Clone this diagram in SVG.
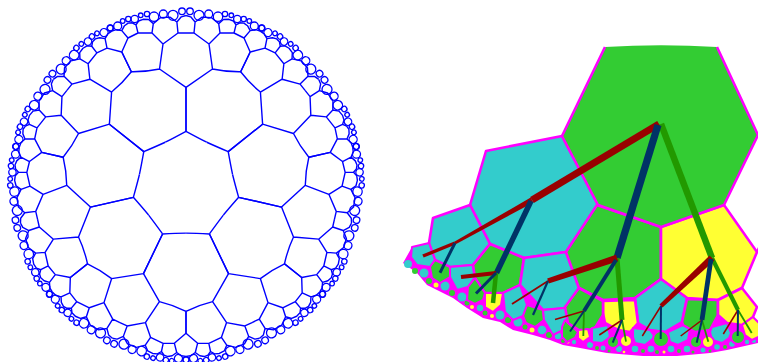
<svg xmlns="http://www.w3.org/2000/svg" width="758" height="362" viewBox="0 0 758 362">
<style>
.w{fill:none;stroke:#00f;stroke-width:1.4;stroke-linejoin:round}
.c{fill:none;stroke:#00f;stroke-width:1.3}
.t{fill:#3cc}.g{fill:#3c3}.y{fill:#ff3}
.cell{stroke:#f0f;stroke-width:2.6;stroke-linejoin:round}
.sm{stroke-width:2}
.r{stroke:#900;fill:none}.n{stroke:#036;fill:none}.v{stroke:#290;fill:none}
.rf{fill:#900}
</style>
<defs>
<g id="h">
<path class="w" d="M186,131.3Q174,137.8 165.3,142.2M186,131.3V87.3L159.5,69Q145.6,72 131.3,71.8L121.8,52M159.5,69L163,44L178,33H186M163,44L152,33L138,33L128,38L121.8,52M178,33L176.9,22L181.3,16.8L186,15.5M176.9,22L169.9,17.1L160.4,17.75L153.3,23.6L152,33M153.3,23.6L148.6,19.5L143.1,19.3L138.6,21L136,24.9L138,33M136,24.9L132.1,22.8L128.1,23.1L124.5,25.7L121.8,30.6L128,38M121.8,30.6L116.3,29.7L111.8,31.2"/>
<g class="c"><circle cx="182" cy="11.3" r="3.3"/><circle cx="173" cy="15.3" r="5"/><circle cx="163.3" cy="14" r="4"/><circle cx="154" cy="16.7" r="4.7"/><circle cx="147" cy="14" r="2.7"/><circle cx="140.7" cy="15.3" r="2.3"/><circle cx="134.7" cy="19" r="3.7"/><circle cx="128.3" cy="19" r="2.7"/><circle cx="122.7" cy="21" r="2.3"/><circle cx="117.7" cy="26" r="4"/><circle cx="110.3" cy="28" r="3"/></g>
</g>
<g id="q"><use href="#h"/><use href="#h" transform="translate(372,0) scale(-1,1)"/></g>
</defs>
<g id="disk">
<use href="#q"/>
<use href="#q" transform="rotate(51.4286 186 185.3)"/>
<use href="#q" transform="rotate(102.8571 186 185.3)"/>
<use href="#q" transform="rotate(154.2857 186 185.3)"/>
<use href="#q" transform="rotate(205.7143 186 185.3)"/>
<use href="#q" transform="rotate(257.1429 186 185.3)"/>
<use href="#q" transform="rotate(308.5714 186 185.3)"/>
</g>
<g id="rim">
<polygon fill="#f0f" points="403,263 417,273 427,285 437,290 453,298 467,308 483,318 500,322 513,330 533,335 550,340 563,345 580,348 607,353 643,356 677,356 710,353 727,350 758,343 758,330 745,310 640,295 520,285 450,258 412,247"/>
<g class="t"><circle cx="408" cy="264" r="4"/><circle cx="424" cy="273" r="4.5"/><circle cx="445" cy="286" r="4.5"/><circle cx="462" cy="297" r="4.5"/><circle cx="480" cy="308" r="3.2"/><circle cx="500" cy="315" r="4.5"/><circle cx="518" cy="322" r="4.5"/><circle cx="542" cy="330" r="4.3"/><circle cx="558" cy="336" r="3.2"/><circle cx="574" cy="342" r="2.2"/><circle cx="590" cy="345" r="3"/><circle cx="603" cy="348" r="2.5"/><circle cx="619" cy="349" r="3"/><circle cx="635" cy="349" r="3.3"/><circle cx="651" cy="349" r="3.3"/><circle cx="671" cy="349" r="3.3"/><circle cx="687" cy="349" r="3.3"/><circle cx="703" cy="350" r="2.5"/><circle cx="717" cy="347" r="2.8"/><circle cx="732" cy="344" r="2.8"/><circle cx="747" cy="342" r="2.2"/><circle cx="754" cy="341" r="2"/></g>
<g class="g"><circle cx="415" cy="271" r="3"/><circle cx="429" cy="281" r="3"/><circle cx="452" cy="293" r="3"/><circle cx="467" cy="303" r="2.5"/><circle cx="485" cy="313" r="2.5"/><circle cx="508" cy="320" r="3"/><circle cx="525" cy="327" r="2.5"/><circle cx="549" cy="335" r="3"/><circle cx="563" cy="341" r="2"/><circle cx="597" cy="348" r="2"/><circle cx="609" cy="351" r="1.5"/><circle cx="643" cy="351" r="2"/><circle cx="657" cy="352" r="2"/><circle cx="679" cy="351" r="2"/><circle cx="693" cy="352" r="1.5"/><circle cx="710" cy="351" r="1.5"/><circle cx="725" cy="347" r="2"/></g>
<g class="y"><circle cx="436" cy="285" r="2.5"/><circle cx="472" cy="307" r="2"/><circle cx="492" cy="316" r="2"/><circle cx="532" cy="330" r="2.5"/><circle cx="568" cy="342" r="1.5"/><circle cx="624" cy="352" r="1.3"/><circle cx="664" cy="352" r="1.5"/></g>
</g>
<g id="cells">
<polygon id="c1" class="t cell" points="486,151 562,136 598,205 566,252 524,258 490,244 470,205"/>
<polygon id="c2" class="t cell" points="433,218 470,205 490,244 473,265 450,267 435,260 429,243"/>
<polygon id="c3" class="t cell sm" points="412,247 429,243 435,260 430,267 417,265 411,257"/>
<polygon id="c4" class="g cell sm" points="435,260 450,267 450,277 440,283 432,278 430,267"/>
<polygon id="c5" class="t cell sm" points="450,267 473,265 475,277 468,287 457,290 450,277"/>
<polygon id="c6" class="g cell" points="473,265 490,244 524,258 520,285 503,293 485,293 475,278"/>
<polygon id="c7" class="g cell sm" points="475,278 485,293 483,300 475,304 467,300 468,287"/>
<polygon id="c8" class="y cell sm" points="485,293 503,293 501,305 493,312 485,307"/>
<polygon id="c9" class="t cell" points="524,258 566,252 579,288 566,308 543,310 520,285"/>
<polygon id="c10" class="t cell sm" points="503,293 520,285 527,305 523,316 513,320 505,312"/>
<polygon id="c11" class="g cell sm" points="527,305 543,310 544,320 535,327 526,323 523,316"/>
<polygon id="c12" class="t cell sm" points="543,310 566,308 570,322 563,330 553,335 544,320"/>
<polygon id="c13" class="g cell sm" points="565,320 578,332 575,338 567,342 562,337 562,327"/>
<polygon id="c14" class="g cell" points="597,205 661,227 661,279 635,298 603,300 579,288 566,252"/>
<polygon id="c15" class="y cell" points="661,227 724,205 757,252 742,288 718,300 687,298 661,279"/>
<polygon id="c16" class="t cell" points="661,279 687,298 682,322 665,332 650,330 638,323 635,298"/>
<polygon id="c17" class="y cell" points="603,301 635,300 638,323 630,332 618,330 605,323 603,313"/>
<polygon id="c18" class="g cell" points="579,288 603,301 603,315 595,328 582,332 568,323 565,307"/>
<polygon id="c19" class="y cell sm" points="578,330 588,329 590,337 583,342 578,338"/>
<polygon id="c20" class="t cell sm" points="592,328 608,325 610,337 602,343 592,342 592,335"/>
<circle id="c21" class="g cell sm" cx="613" cy="342" r="6"/>
<circle id="c22" class="y cell sm" cx="626" cy="341" r="6"/>
<polygon id="c23" class="t cell sm" points="633,328 650,330 655,337 645,345 635,343 633,337"/>
<circle id="c24" class="g cell sm" cx="661" cy="339" r="8"/>
<polygon id="c25" class="t cell sm" points="668,332 683,325 690,328 688,340 678,345 670,342"/>
<polygon id="c26" class="g cell" points="687,299 718,300 718,315 710,330 695,332 683,325 682,322"/>
<polygon id="c27" class="y cell" points="718,300 742,288 757,307 753,317 742,325 727,323 718,315"/>
<polygon id="c28" class="t cell sm" points="712,327 727,323 731,333 729,338 722,343 712,340 710,332"/>
<circle id="c29" class="g cell sm" cx="738" cy="337" r="7"/>
<polygon id="c30" class="y cell sm" points="742,325 753,317 760,324 760,336 752,340 745,335"/>
<circle id="c31" class="g cell sm" cx="696" cy="342" r="6"/>
<circle id="c32" class="y cell sm" cx="708" cy="342" r="6"/>
<path id="c33" class="g" d="M605,47Q661,43.5 717,47L758,135L724,205L661,227L598,205L562,136Z"/>
<path class="cell" fill="none" d="M605,47L562,136L598,205L661,227L724,205L758,135L717,47M757,252L760,246"/>
</g>
<g id="tree" stroke-linecap="butt">
<line class="v" x1="661" y1="124" x2="712" y2="258" stroke-width="6.5"/>
<line class="r" x1="659" y1="124" x2="532" y2="200" stroke-width="7"/>
<line class="n" x1="658" y1="125" x2="617" y2="258" stroke-width="7.3"/>
<polygon class="rf" points="533.3,202.4 530.7,197.6 454.3,241.7 455.7,244.3"/>
<line class="n" x1="531" y1="201" x2="496.5" y2="273" stroke-width="5.5"/>
<line class="r" x1="455" y1="243" x2="423" y2="256" stroke-width="3.5"/>
<line class="n" x1="455" y1="243" x2="440" y2="272.7" stroke-width="3"/>
<line class="v" x1="496" y1="273" x2="493" y2="303" stroke-width="4.5"/>
<line class="r" x1="496" y1="273" x2="461" y2="277" stroke-width="4"/>
<line class="n" x1="496" y1="273" x2="476" y2="293.5" stroke-width="3"/>
<line class="v" x1="617" y1="258" x2="622" y2="320" stroke-width="5"/>
<polygon class="rf" points="618.1,261.3 615.9,254.7 547.2,278.6 548.8,283.4"/>
<line class="n" x1="616" y1="260" x2="584" y2="311" stroke-width="4"/>
<line class="r" x1="548" y1="281" x2="512" y2="304" stroke-width="1.8"/>
<line class="n" x1="548" y1="281" x2="533" y2="315" stroke-width="2.2"/>
<line class="v" x1="584" y1="311" x2="583.3" y2="336" stroke-width="1.8"/>
<line class="r" x1="584" y1="311" x2="555" y2="319.5" stroke-width="1.5"/>
<line class="n" x1="584" y1="311" x2="570" y2="331.5" stroke-width="2"/>
<line class="v" x1="622" y1="320" x2="626" y2="341.7" stroke-width="1.8"/>
<line class="r" x1="622" y1="320" x2="599.3" y2="335" stroke-width="1.5"/>
<line class="n" x1="622" y1="320" x2="612.7" y2="342.7" stroke-width="2"/>
<line class="v" x1="712" y1="258" x2="738" y2="310" stroke-width="4.2"/>
<polygon class="rf" points="714.4,260.5 709.6,255.5 659.5,304.4 662.5,307.6"/>
<line class="n" x1="711" y1="259" x2="702" y2="320" stroke-width="4.8"/>
<line class="r" x1="661" y1="306" x2="642.3" y2="336" stroke-width="1.5"/>
<line class="n" x1="661" y1="306" x2="660.7" y2="339" stroke-width="2"/>
<line class="v" x1="702" y1="320" x2="708.3" y2="341.7" stroke-width="1.8"/>
<line class="r" x1="702" y1="320" x2="680.7" y2="336" stroke-width="1.5"/>
<line class="n" x1="702" y1="320" x2="696.7" y2="342.7" stroke-width="2"/>
<line class="v" x1="738" y1="310" x2="751.7" y2="333" stroke-width="1.8"/>
<line class="r" x1="738" y1="310" x2="723.3" y2="334" stroke-width="1.5"/>
<line class="n" x1="738" y1="310" x2="737.7" y2="336" stroke-width="2"/>
</g>
</svg>
